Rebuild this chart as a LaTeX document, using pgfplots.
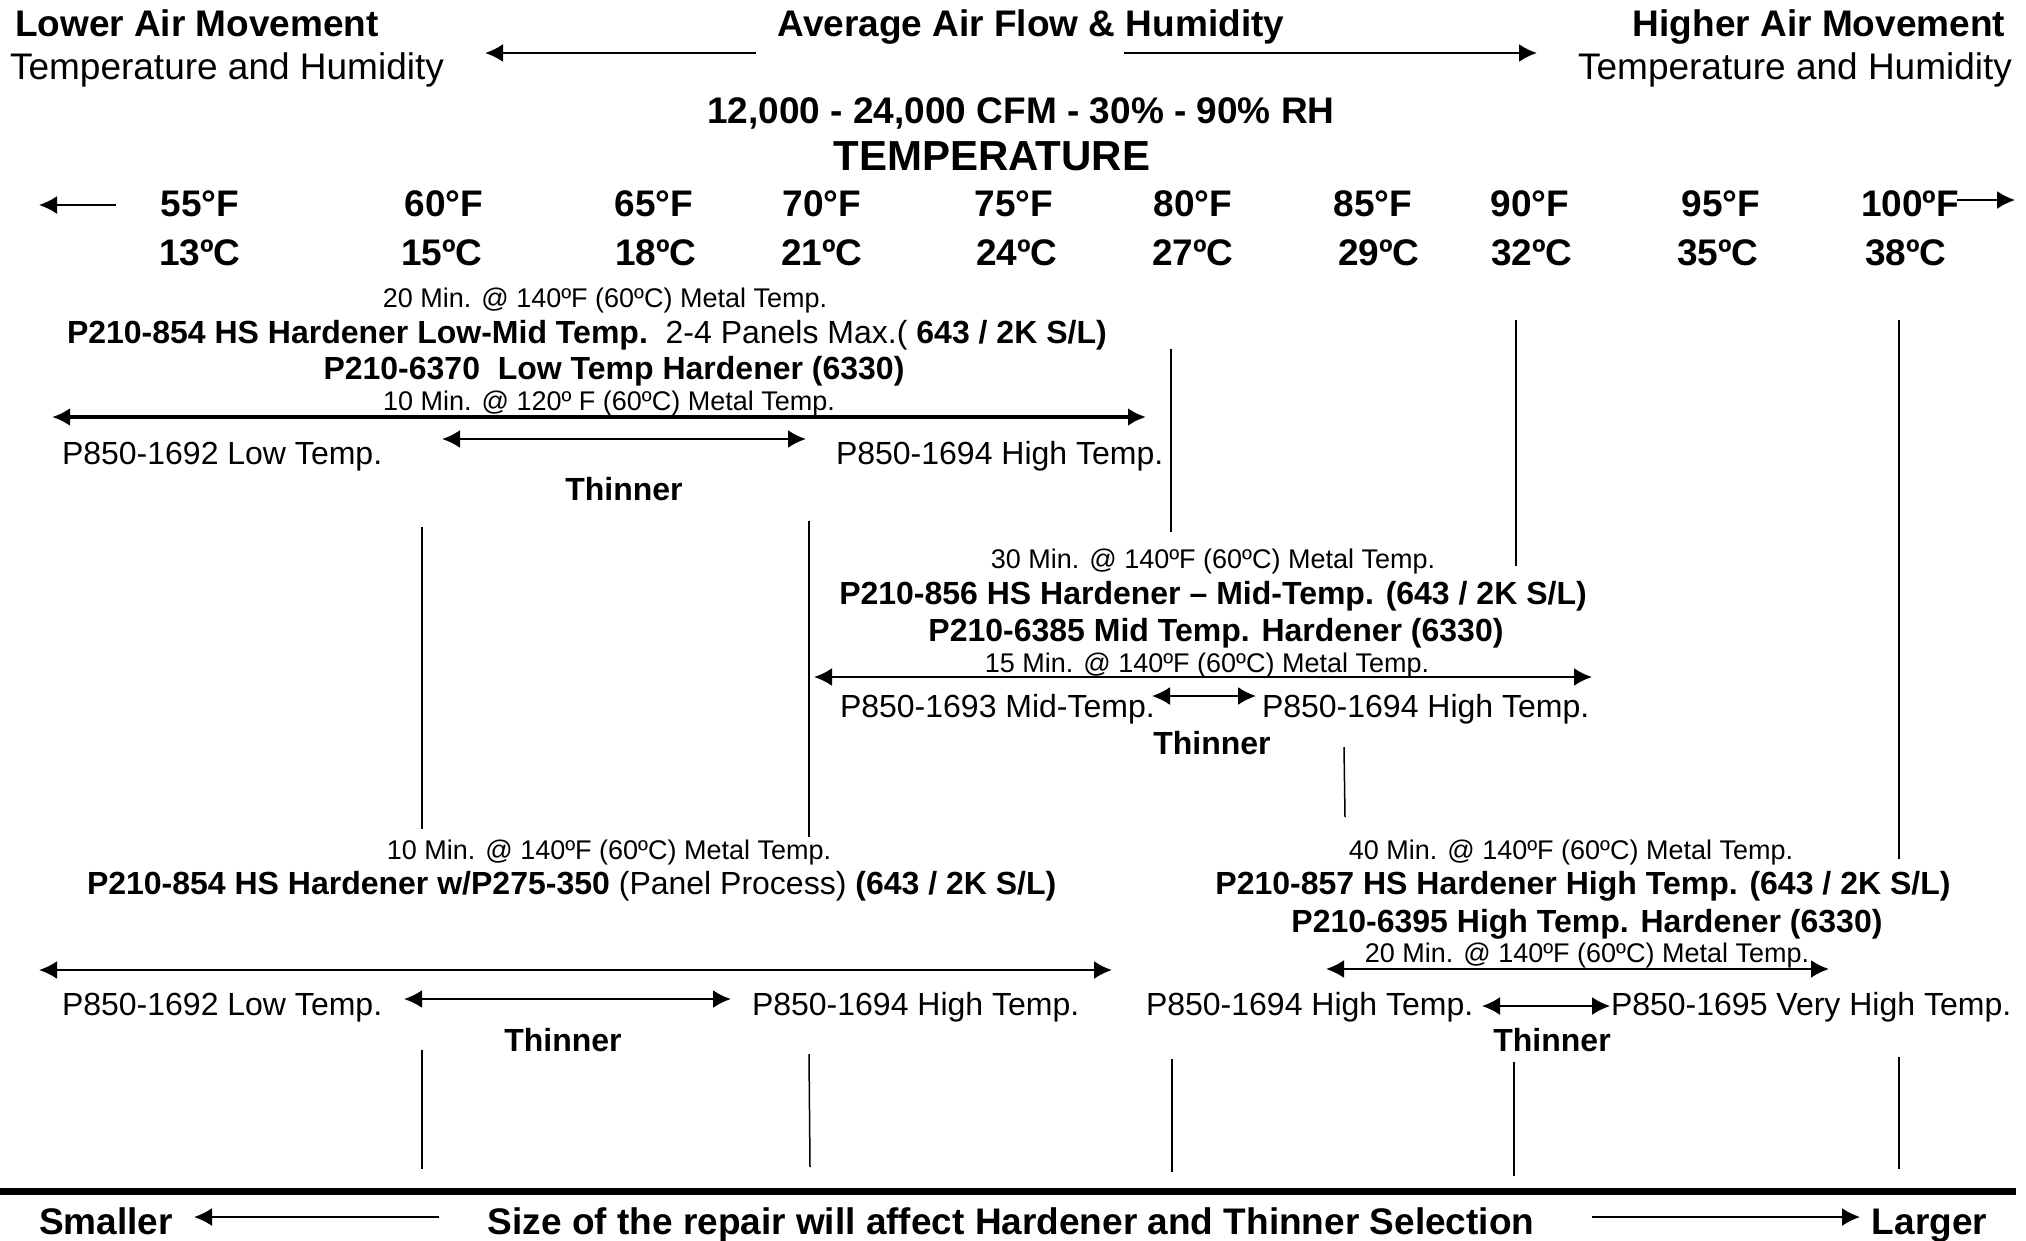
\documentclass[border=0pt]{standalone}
\usepackage{fontspec}
\setmainfont{Liberation Sans}
\usepackage{pgfplots}
\pgfplotsset{compat=1.18}
\usetikzlibrary{arrows.meta}
\tikzset{
  F/.style={font=\fontsize{37}{40}\selectfont, inner sep=0pt, outer sep=0pt},
  B/.style={font=\fontsize{37}{40}\selectfont\bfseries, inner sep=0pt, outer sep=0pt},
  M/.style={font=\fontsize{32}{35}\selectfont, inner sep=0pt, outer sep=0pt},
  MB/.style={font=\fontsize{32}{35}\selectfont\bfseries, inner sep=0pt, outer sep=0pt},
  S/.style={font=\fontsize{27}{30}\selectfont, inner sep=0pt, outer sep=0pt},
}
\begin{document}
\begin{tikzpicture}
\path[use as bounding box] (0,0) rectangle (2026pt,1240pt);
\begin{axis}[at={(0,0)}, anchor=south west, width=2026pt, height=1240pt, scale only axis,
  xmin=0, xmax=2026, ymin=0, ymax=1240, y dir=reverse, hide axis, clip=false,
  ar/.style={black, line width=2.5pt, no marks, -{Latex[length=18pt,width=18pt]}},
  dar/.style={black, line width=2.5pt, no marks, {Latex[length=18pt,width=18pt]}-{Latex[length=18pt,width=18pt]}},
  vl/.style={black, line width=1.5pt, no marks}]
% header
\node[B, anchor=base west] at (axis cs:15,36) {Lower Air Movement};
\node[F, anchor=base west] at (axis cs:10,79) {Temperature and Humidity};
\node[B, anchor=base] at (axis cs:1031,36) {Average Air Flow \& Humidity};
\node[B, anchor=base east] at (axis cs:2005,36) {Higher Air Movement};
\node[F, anchor=base east] at (axis cs:2012,79) {Temperature and Humidity};
\addplot[ar] coordinates {(756,53) (485,53)};
\addplot[ar] coordinates {(1124,53) (1537,53)};
\node[B, anchor=base] at (axis cs:1021,123) {12,000 - 24,000 CFM - 30\% - 90\% RH};
\node[font=\fontsize{42}{46}\selectfont\bfseries, inner sep=0pt, anchor=base] at (axis cs:992,170) {TEMPERATURE};
% temperature rows
\node[B, anchor=base] at (axis cs:200,216) {55°F};
\node[B, anchor=base] at (axis cs:444,216) {60°F};
\node[B, anchor=base] at (axis cs:654,216) {65°F};
\node[B, anchor=base] at (axis cs:822,216) {70°F};
\node[B, anchor=base] at (axis cs:1014,216) {75°F};
\node[B, anchor=base] at (axis cs:1193,216) {80°F};
\node[B, anchor=base] at (axis cs:1373,216) {85°F};
\node[B, anchor=base] at (axis cs:1530,216) {90°F};
\node[B, anchor=base] at (axis cs:1721,216) {95°F};
\node[B, anchor=base] at (axis cs:1910,216) {100ºF};
\node[B, anchor=base] at (axis cs:200,265) {13ºC};
\node[B, anchor=base] at (axis cs:442,265) {15ºC};
\node[B, anchor=base] at (axis cs:656,265) {18ºC};
\node[B, anchor=base] at (axis cs:822,265) {21ºC};
\node[B, anchor=base] at (axis cs:1017,265) {24ºC};
\node[B, anchor=base] at (axis cs:1193,265) {27ºC};
\node[B, anchor=base] at (axis cs:1379,265) {29ºC};
\node[B, anchor=base] at (axis cs:1532,265) {32ºC};
\node[B, anchor=base] at (axis cs:1718,265) {35ºC};
\node[B, anchor=base] at (axis cs:1906,265) {38ºC};
\addplot[ar, line width=2pt] coordinates {(116,205) (39,205)};
\addplot[ar, line width=2pt] coordinates {(1957,200) (2015,200)};
% section 1
\node[S, anchor=base] at (axis cs:605,307) {20 Min. @ 140ºF (60ºC) Metal Temp.};
\node[M, anchor=base west] at (axis cs:67,343) {\textbf{P210-854 HS Hardener Low-Mid Temp.}\ \ 2-4 Panels Max.(\textbf{ 643 / 2K S/L)}};
\node[MB, anchor=base] at (axis cs:614,379) {P210-6370\ \ Low Temp Hardener (6330)};
\node[S, anchor=base] at (axis cs:609,410) {10 Min. @ 120º F (60ºC) Metal Temp.};
\addplot[dar, line width=4pt] coordinates {(52,417) (1146,417)};
\node[M, anchor=base west] at (axis cs:62,464) {P850-1692 Low Temp.};
\addplot[dar] coordinates {(442,439) (806,439)};
\node[M, anchor=base west] at (axis cs:836,464) {P850-1694 High Temp.};
\node[MB, anchor=base] at (axis cs:624,500) {Thinner};
% vertical lines
\addplot[vl] coordinates {(1171,349) (1171,532)};
\addplot[vl] coordinates {(1516,320) (1516,566)};
\addplot[vl] coordinates {(1899,320) (1899,859)};
\addplot[vl] coordinates {(422,527) (422,829)};
\addplot[vl] coordinates {(809,521) (809,837)};
\addplot[vl] coordinates {(1344,747) (1345,817)};
\addplot[vl] coordinates {(422,1050) (422,1169)};
\addplot[vl] coordinates {(809,1054) (810,1167)};
\addplot[vl] coordinates {(1172,1059) (1172,1172)};
\addplot[vl] coordinates {(1514,1062) (1514,1176)};
\addplot[vl] coordinates {(1899,1057) (1899,1169)};
% section 2
\node[S, anchor=base] at (axis cs:1213,568) {30 Min. @ 140ºF (60ºC) Metal Temp.};
\node[MB, anchor=base] at (axis cs:1213,604) {P210-856 HS Hardener – Mid-Temp. (643 / 2K S/L)};
\node[MB, anchor=base] at (axis cs:1216,641) {P210-6385 Mid Temp. Hardener (6330)};
\node[S, anchor=base] at (axis cs:1207,672) {15 Min. @ 140ºF (60ºC) Metal Temp.};
\addplot[dar] coordinates {(814,677) (1592,677)};
\node[M, anchor=base west] at (axis cs:840,717) {P850-1693 Mid-Temp.};
\addplot[dar, line width=2pt] coordinates {(1152,696) (1256,696)};
\node[M, anchor=base west] at (axis cs:1262,717) {P850-1694 High Temp.};
\node[MB, anchor=base] at (axis cs:1212,754) {Thinner};
% section 3
\node[S, anchor=base] at (axis cs:609,859) {10 Min. @ 140ºF (60ºC) Metal Temp.};
\node[M, anchor=base west] at (axis cs:87,894) {\textbf{P210-854 HS Hardener w/P275-350} (Panel Process) \textbf{(643 / 2K S/L)}};
\addplot[dar] coordinates {(39,970) (1112,970)};
\node[M, anchor=base west] at (axis cs:62,1015) {P850-1692 Low Temp.};
\addplot[dar] coordinates {(404,999) (731,999)};
\node[M, anchor=base west] at (axis cs:752,1015) {P850-1694 High Temp.};
\node[MB, anchor=base] at (axis cs:563,1051) {Thinner};
% section 4
\node[S, anchor=base] at (axis cs:1571,859) {40 Min. @ 140ºF (60ºC) Metal Temp.};
\node[MB, anchor=base] at (axis cs:1583,894) {P210-857 HS Hardener High Temp. (643 / 2K S/L)};
\node[MB, anchor=base] at (axis cs:1587,932) {P210-6395 High Temp. Hardener (6330)};
\node[S, anchor=base] at (axis cs:1587,962) {20 Min. @ 140ºF (60ºC) Metal Temp.};
\addplot[dar] coordinates {(1326,969) (1829,969)};
\node[M, anchor=base west] at (axis cs:1146,1015) {P850-1694 High Temp.};
\addplot[dar, line width=2pt] coordinates {(1482,1006) (1610,1006)};
\node[M, anchor=base west] at (axis cs:1611,1015) {P850-1695 Very High Temp.};
\node[MB, anchor=base] at (axis cs:1552,1051) {Thinner};
% bottom
\addplot[black, line width=7pt, no marks] coordinates {(0,1191) (2016,1191)};
\node[B, anchor=base west] at (axis cs:39,1234) {Smaller};
\addplot[ar, line width=2pt] coordinates {(439,1217) (194,1217)};
\node[B, anchor=base] at (axis cs:1011,1234) {Size of the repair will affect Hardener and Thinner Selection};
\addplot[ar, line width=2pt] coordinates {(1592,1217) (1860,1217)};
\node[B, anchor=base east] at (axis cs:1987,1234) {Larger};
\end{axis}
\end{tikzpicture}
\end{document}
